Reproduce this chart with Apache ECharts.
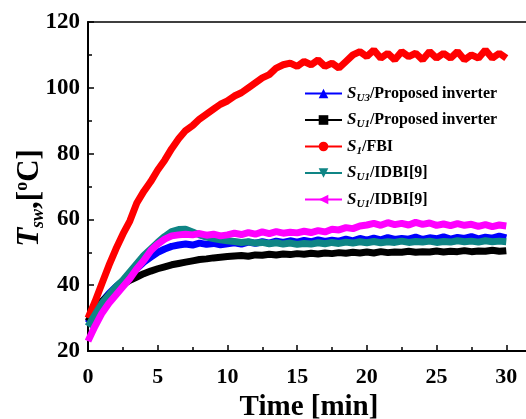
<!DOCTYPE html>
<html><head><meta charset="utf-8">
<script src="https://cdn.jsdelivr.net/npm/echarts@6/dist/echarts.min.js"></script>
<style>html,body{margin:0;padding:0;background:#fff}#c{width:526px;height:419px}</style>
</head><body><div id="c"></div>
<script>
var time = [0,0.5,1,1.5,2,2.5,3,3.5,4,4.5,5,5.5,6,6.5,7,7.5,8,8.5,9,9.5,10,10.5,11,11.5,12,12.5,13,13.5,14,14.5,15,15.5,16,16.5,17,17.5,18,18.5,19,19.5,20,20.5,21,21.5,22,22.5,23,23.5,24,24.5,25,25.5,26,26.5,27,27.5,28,28.5,29,29.5,30];
var blueSU3 = [28.5,32,35,37.5,39.5,41.2,42.5,45,47,48.5,50,51,51.8,52.2,52.5,52.2,52.8,52.4,52.7,52.3,52.6,52.9,52.5,53.1,52.7,53.2,52.8,53.4,53,53.5,53.1,53.6,53.2,53.8,53.3,53.7,53.4,54,53.5,54.2,53.7,54.3,53.8,54.5,53.9,54.2,54,54.6,53.9,54.4,54.1,54.7,54,54.5,54.2,54.8,54.1,54.6,54.3,54.9,54.4];
var blackSU1 = [29,32.5,35,37,38.8,40.2,41.5,42.5,43.5,44.3,45,45.6,46.2,46.6,47,47.4,47.8,48,48.3,48.5,48.7,48.9,49,48.8,49.2,49.1,49.4,49.2,49.5,49.3,49.6,49.4,49.7,49.5,49.8,49.6,49.9,49.7,50,49.8,50.1,49.8,50.2,49.9,50.1,50,50.3,50,50.2,50.1,50.4,50.1,50.3,50.2,50.5,50.2,50.4,50.3,50.6,50.3,50.5];
var redS1 = [30,35,40.5,46,51,55.5,59.5,65,68.5,71.5,75,78,81.5,84.5,87,88.5,90.5,92,93.5,95,96,97.5,98.5,100,101.5,103,104,106,107,107.5,106.5,108,107,108.5,106.5,107.5,106,108,110,111,109.5,111.5,109,110.5,108.5,111,109.5,110.5,108.5,111,109,110.5,109,111,108.5,110,109,111.5,109,110.5,109];
var tealSU1 = [27.5,31,34.5,37,39.5,41.5,44,46.5,49,51,53,54.8,56.3,56.9,57,56.2,55.3,54.6,54.2,53.8,53.5,53.3,53,53.2,52.8,53,52.6,52.9,52.5,52.8,52.4,52.7,52.5,52.9,52.6,53,52.7,53.1,52.8,53.2,52.9,53.3,52.9,53.2,53,53.4,53,53.3,53.1,53.4,53,53.3,53.1,53.5,53.2,53.4,53.1,53.5,53.2,53.4,53.2];
var magentaSU1 = [23,27.5,31.5,34.5,37,39.5,42,45,47.5,50.5,52.5,54,55,55.3,55.5,55.3,55.7,55.2,55.5,55,55.3,55.8,55.4,56,55.5,56.2,55.7,56.3,55.8,56.1,55.9,56.4,56,56.6,56.2,57,56.8,57.5,57.2,58,58.3,58.8,58.2,59,58.4,58.8,58.3,59.1,58.5,58.9,58.2,58.6,58.1,58.7,58.2,58.5,57.9,58.4,57.8,58.3,58];
var seriesKeys = ['blue','black','red','teal','magenta'];
var seriesLabels = ['{s|S}{sub|U3}{t|/Proposed inverter}','{s|S}{sub|U1}{t|/Proposed inverter}','{s|S}{sub|1}{t|/FBI}','{s|S}{sub|U1}{t|/IDBI[9]}','{s|S}{sub|U1}{t|/IDBI[9]}'];
var xTicks = [0,5,10,15,20,25,30];
var yTicks = [20,40,60,80,100,120];

var FONT = 'Liberation Serif';
function pairs(v){ return time.map(function(t,i){ return [t, v[i]]; }); }
var colors = ['#0000ff','#000000','#ff0000','#0f8585','#ff00ff'];
var symbols = ['triangle','rect','circle','triangle','triangle'];
var rotates = [0,0,0,180,90];
var vals = [blueSU3, blackSU1, redS1, tealSU1, magentaSU1];
var series = seriesKeys.map(function(k,i){
  return {
    name:k, type:'line', data:pairs(vals[i]), showSymbol:false,
    symbol:symbols[i], symbolRotate:rotates[i], symbolSize:8,
    lineStyle:{color:colors[i], width:7}, itemStyle:{color:colors[i]},
    smooth:false, animation:false, z: 2+i
  };
});
var chart = echarts.init(document.getElementById('c'));
chart.setOption({
  backgroundColor:'#fff',
  animation:false,
  grid:{left:88, top:22, bottom:68, right:-50, outerBoundsMode:'none', containLabel:false,
    show:true, borderColor:'#000', borderWidth:1.5, backgroundColor:'transparent'},
  xAxis:{
    type:'value', min:0, max:35, interval:5,
    axisLine:{lineStyle:{color:'#000', width:2}},
    axisTick:{inside:true, length:6, lineStyle:{color:'#000', width:1.5}},
    minorTick:{show:true, splitNumber:2, length:4, lineStyle:{color:'#000', width:1.5}},
    splitLine:{show:false},
    axisLabel:{color:'#000', fontFamily:FONT, fontWeight:'bold', fontSize:22, margin:15,
      formatter:function(v){ return xTicks.indexOf(v)>=0 ? String(v) : ''; }},
    name:'Time [min]', nameLocation:'middle', nameGap:34,
    nameTextStyle:{color:'#000', fontFamily:FONT, fontWeight:'bold', fontSize:29, padding:[0,46,0,0]}
  },
  yAxis:{
    type:'value', min:20, max:120, interval:20,
    axisLine:{lineStyle:{color:'#000', width:2}},
    axisTick:{inside:true, length:6, lineStyle:{color:'#000', width:1.5}},
    minorTick:{show:true, splitNumber:2, length:4, lineStyle:{color:'#000', width:1.5}},
    splitLine:{show:false},
    axisLabel:{color:'#000', fontFamily:FONT, fontWeight:'bold', fontSize:23, margin:8,
      formatter:function(v){ return yTicks.indexOf(v)>=0 ? String(v) : ''; }}
  },
  legend:{
    orient:'vertical', left:299, top:80, itemWidth:37, itemHeight:12, itemGap:8,
    data:seriesKeys, lineStyle:{width:2},
    formatter:function(n){ return seriesLabels[seriesKeys.indexOf(n)]; },
    textStyle:{color:'#000', fontFamily:FONT, fontWeight:'bold', fontSize:16,
      rich:{
        s:{fontFamily:FONT, fontWeight:'bold', fontStyle:'italic', fontSize:17, color:'#000', lineHeight:20},
        sub:{fontFamily:FONT, fontStyle:'italic', fontSize:11, color:'#000', verticalAlign:'bottom', lineHeight:10},
        t:{fontFamily:FONT, fontWeight:'bold', fontSize:16, color:'#000', lineHeight:20}
      }}
  },
  graphic:[{
    type:'text', x:30, y:198, rotation:Math.PI/2,
    style:{
      text:'{T|T}{sub|sw}{b|,[}{sup|o}{b|C]}',
      align:'center', verticalAlign:'middle', fill:'#000',
      rich:{
        T:{fontFamily:FONT, fontWeight:'bold', fontStyle:'italic', fontSize:31, fill:'#000', lineHeight:34},
        sub:{fontFamily:FONT, fontWeight:'bold', fontStyle:'italic', fontSize:18, fill:'#000', verticalAlign:'bottom', lineHeight:16},
        b:{fontFamily:FONT, fontWeight:'bold', fontSize:31, fill:'#000', lineHeight:34},
        sup:{fontFamily:FONT, fontWeight:'bold', fontSize:18, fill:'#000', verticalAlign:'top', lineHeight:16}
      }
    }
  }],
  series:series
});
</script></body></html>
